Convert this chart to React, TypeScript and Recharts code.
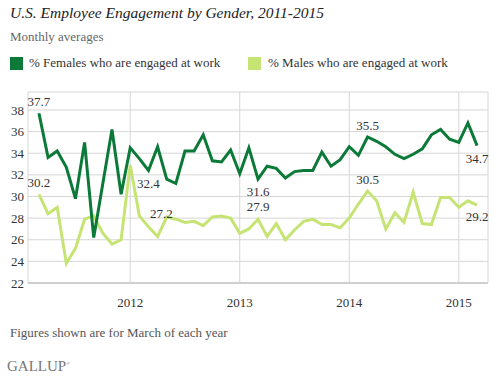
import { LineChart, Line, XAxis, YAxis, CartesianGrid, LabelList } from "recharts";

// monthly points, March 2011 .. March 2015 (index 0 = Mar 2011)
const females = [
  37.7, 33.6, 34.2, 32.7, 29.8, 35.0, 26.2, 31.2, 36.2, 30.2,
  34.5, 33.5, 32.4, 34.6, 31.6, 31.2, 34.2, 34.2, 35.7, 33.3,
  33.2, 34.3, 32.1, 34.5, 31.6, 32.8, 32.6, 31.7, 32.3, 32.4,
  32.4, 34.1, 32.8, 33.4, 34.6, 33.8, 35.5, 35.1, 34.6, 33.9,
  33.5, 33.9, 34.4, 35.7, 36.2, 35.3, 35.0, 36.8, 34.7,
];
const males = [
  30.2, 28.4, 29.0, 23.8, 25.2, 27.9, 28.2, 26.6, 25.6, 26.0,
  32.9, 28.2, 27.2, 26.3, 28.1, 27.9, 27.6, 27.7, 27.3, 28.1,
  28.2, 28.0, 26.6, 27.0, 27.9, 26.3, 27.5, 26.0, 26.9, 27.7,
  27.9, 27.4, 27.4, 27.1, 28.0, 29.3, 30.5, 29.6, 27.0, 28.5,
  27.6, 30.4, 27.5, 27.4, 29.9, 29.9, 29.0, 29.6, 29.2,
];
const yearTicks = [10, 22, 34, 46]; // January of each year
const yearLabels = ["2012", "2013", "2014", "2015"];
const yTicks = [22, 24, 26, 28, 30, 32, 34, 36, 38];
const marchIdx = [0, 12, 24, 36, 48];

const data = females.map((f, i) => ({ m: i, female: f, male: males[i] }));

const DARK = "#0b7a38";
const LIGHT = "#c6e474";
const SERIF = "'Liberation Serif', 'Times New Roman', serif";

// label placement per March point: [dy of baseline, dx]
const femalePlace: [number, number][] = [[-7, 0], [17, 0], [16.5, 0], [-7, 0], [17, 0]];
const malePlace: [number, number][] = [[-7, 0], [-9, 13], [-8, 0], [-7, 0], [16, 0]];

const makeLabel = (place: [number, number][]) => (props: any) => {
  const { x, y, value, index } = props;
  const k = marchIdx.indexOf(index);
  if (k < 0) return null;
  const [dy, dx] = place[k];
  return (
    <text x={x + dx} y={y + dy} textAnchor="middle" fontFamily={SERIF} fontSize={13} fill="#333">
      {Number(value).toFixed(1)}
    </text>
  );
};

export default function App() {
  return (
    <div style={{ position: "absolute", left: 0, top: 0, width: 495, height: 378, background: "#fff", fontFamily: SERIF }}>
      <div style={{ position: "absolute", left: 10, top: 4, fontSize: 15.5, fontStyle: "italic", color: "#222", whiteSpace: "nowrap" }}>
        U.S. Employee Engagement by Gender, 2011-2015
      </div>
      <div style={{ position: "absolute", left: 10, top: 29, fontSize: 13, color: "#666", whiteSpace: "nowrap" }}>
        Monthly averages
      </div>
      <div style={{ position: "absolute", left: 10, top: 57, width: 13, height: 13, background: DARK }} />
      <div style={{ position: "absolute", left: 29, top: 55, fontSize: 13, color: "#333", whiteSpace: "nowrap" }}>
        % Females who are engaged at work
      </div>
      <div style={{ position: "absolute", left: 248, top: 57, width: 13, height: 13, background: LIGHT }} />
      <div style={{ position: "absolute", left: 268, top: 55, fontSize: 13, color: "#333", whiteSpace: "nowrap" }}>
        % Males who are engaged at work
      </div>

      <div style={{ position: "absolute", left: 0, top: 0 }}>
        <LineChart width={495} height={378} data={data} margin={{ top: 92, right: 7, bottom: 65, left: 0 }}>
          <CartesianGrid stroke="#d6d6d6" strokeWidth={1} />
          <XAxis
            dataKey="m"
            type="number"
            domain={[-1.2, 49.2]}
            ticks={yearTicks}
            tickFormatter={(v: number) => yearLabels[yearTicks.indexOf(v)]}
            height={30}
            tickLine={false}
            tickSize={0}
            tickMargin={15}
            axisLine={{ stroke: "#cfcfcf", strokeWidth: 2 }}
            tick={{ fontFamily: SERIF, fontSize: 13, fill: "#333" }}
            interval={0}
          />
          <YAxis
            type="number"
            domain={[22, 39.66]}
            ticks={yTicks}
            width={28}
            axisLine={false}
            tickLine={false}
            tickSize={0}
            tickMargin={4}
            interval={0}
            tick={{ fontFamily: SERIF, fontSize: 13, fill: "#333" }}
          />
          <Line dataKey="male" stroke={LIGHT} strokeWidth={3} dot={false} isAnimationActive={false} strokeLinejoin="miter">
            <LabelList dataKey="male" content={makeLabel(malePlace)} />
          </Line>
          <Line dataKey="female" stroke={DARK} strokeWidth={3} dot={false} isAnimationActive={false} strokeLinejoin="miter">
            <LabelList dataKey="female" content={makeLabel(femalePlace)} />
          </Line>
        </LineChart>
      </div>

      <div style={{ position: "absolute", left: 10, top: 325, fontSize: 13, color: "#555", whiteSpace: "nowrap" }}>
        Figures shown are for March of each year
      </div>
      <div style={{ position: "absolute", left: 7, top: 358, fontSize: 15, color: "#777", letterSpacing: 0, whiteSpace: "nowrap" }}>
        GALLUP<sup style={{ fontSize: 5 }}>®</sup>
      </div>
    </div>
  );
}
